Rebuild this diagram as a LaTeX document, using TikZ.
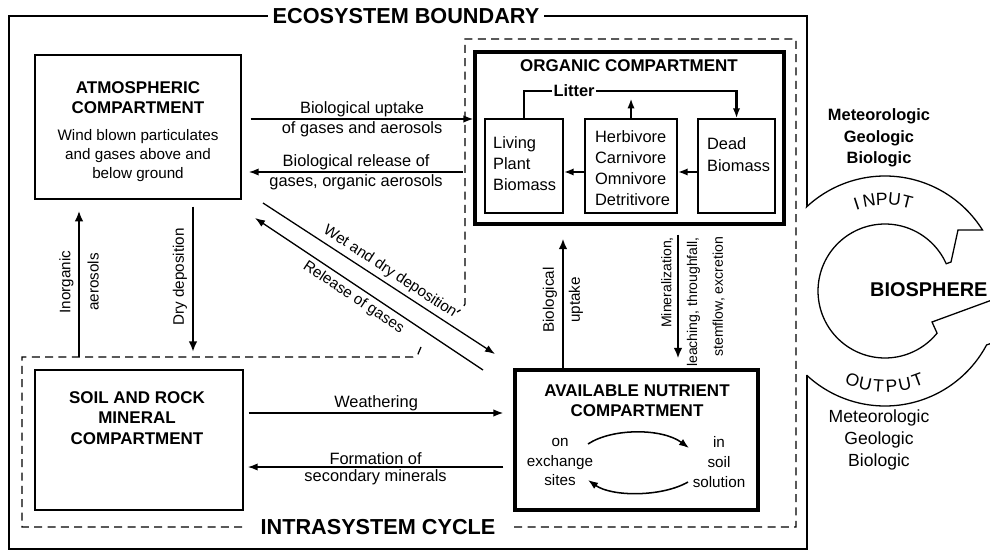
\documentclass[tikz,border=0pt]{standalone}
\usepackage{fontspec}
\setmainfont{Liberation Sans}
\usetikzlibrary{arrows.meta,positioning,calc}

\begin{document}
\begin{tikzpicture}
  [x=0.3mm,y=-0.3mm,
  box/.style={draw,line width=1.2pt,inner sep=0pt},
  heavybox/.style={draw,line width=2.6pt,inner sep=0pt},
  title/.style={font=\bfseries\fontsize{14.5}{17}\selectfont,align=center},
  big/.style={font=\bfseries\fontsize{18.5}{22}\selectfont,fill=white},
  lbl/.style={font=\fontsize{14}{16}\selectfont,inner sep=1.5pt},
  note/.style={font=\fontsize{13}{16.2}\selectfont,align=center},
  inner/.style={font=\fontsize{14}{18}\selectfont,align=left,anchor=west},
  letter/.style={font=\fontsize{15}{18}\selectfont,inner sep=0pt},
  flow/.style={-{Latex[length=3mm,width=2.2mm]},line width=1.3pt},
  backflow/.style={{Latex[length=3mm,width=2.2mm]}-,line width=1.1pt},
  bigflow/.style={-{Latex[length=3.2mm,width=2.6mm]},line width=2.4pt},
  intra/.style={dash pattern=on 2.4mm off 1.6mm,line width=1.1pt}]
  \useasboundingbox (0,0) rectangle (990,552);

  % boundaries
  \draw[line width=1.3pt] (807,205) -- (807,16) -- (9,16) -- (9,549) -- (807,549) -- (807,375);
  \node[big,inner xsep=4pt] (eco) at (406,16) {ECOSYSTEM BOUNDARY};
  \draw[intra] (421,347) -- (418,354) -- (413,357) -- (22,357) -- (22,527) -- (796,527)
    -- (796,39) -- (465,39) -- (465,304) -- (462,309) -- (457,312);
  \node[big,inner xsep=12pt] (cyc) at (378,527) {INTRASYSTEM CYCLE};

  % compartments
  \node[box,minimum width=61.8mm,minimum height=43.2mm] (atm) at (138,127) {};
  \node[heavybox,minimum width=92.7mm,minimum height=51.6mm] (org) at (629.5,138) {};
  \node[box,minimum width=23.4mm,minimum height=28.2mm] (liv) at (524,166) {};
  \node[box,minimum width=27.6mm,minimum height=28.2mm] (herb) at (631,166) {};
  \node[box,minimum width=23.1mm,minimum height=28.2mm] (dead) at (736.5,166) {};
  \node[box,minimum width=62.4mm,minimum height=42mm] (soil) at (139,440) {};
  \node[heavybox,minimum width=72.9mm,minimum height=42mm] (nut) at (636.5,440) {};

  \node[title] (atmT) at (138,98) {ATMOSPHERIC\\COMPARTMENT};
  \node[note] (atmS) at (138,156) {Wind blown particulates\\and gases above and\\below ground};
  \node[title] (orgT) at (629,66) {ORGANIC COMPARTMENT};
  \node[inner] (livT) at (489,164) {Living\\Plant\\Biomass};
  \node[inner] (herbT) at (591,168.5) {Herbivore\\Carnivore\\Omnivore\\Detritivore};
  \node[inner,font=\fontsize{14}{18.8}\selectfont] (deadT) at (703,155) {Dead\\Biomass};
  \node[title,font=\bfseries\fontsize{14.5}{17.5}\selectfont] (soilT) at (137,418) {SOIL AND ROCK\\MINERAL\\COMPARTMENT};
  \node[title] (nutT) at (637,401) {AVAILABLE NUTRIENT\\COMPARTMENT};
  \node[note,font=\fontsize{13}{17}\selectfont] (exch) at (560,462) {on\\exchange\\sites};
  \node[note,font=\fontsize{13}{17}\selectfont] (solu) at (719,462) {in\\soil\\solution};

  % litter loop
  \node[font=\bfseries\fontsize{14}{16}\selectfont,inner sep=1pt] (lit) at (574,91) {Litter};
  \draw[line width=2pt] (liv.north) |- (lit.west);
  \draw[flow,line width=2pt] (lit.east) -| (dead.north);
  \draw[flow,line width=2pt] (herb.north) -- (herb.north |- lit.south);
  \draw[flow,line width=2pt] ([yshift=-1.8mm]herb.west) -- ([yshift=-1.8mm]liv.east);
  \draw[flow,line width=2pt] ([yshift=-1.8mm]dead.west) -- ([yshift=-1.8mm]herb.east);

  % exchange cycle
  \coordinate (e1) at (588,444);
  \coordinate (e2) at (689,448);
  \coordinate (e3) at (688,482);
  \coordinate (e4) at (588,480);
  \draw[flow] (e1) .. controls (612,428) and (662,428) .. (e2);
  \draw[flow] (e3) .. controls (662,497) and (612,497) .. (e4);

  % horizontal fluxes
  \coordinate (r1) at (0,119);
  \coordinate (r2) at (0,172);
  \coordinate (r3) at (0,413);
  \coordinate (r4) at (0,467);
  \draw[flow] ($(atm.east |- r1)+(9,0)$) -- (org.west |- r1)
    node[lbl,midway,above] {Biological uptake}
    node[lbl,midway,below] {of gases and aerosols};
  \draw[flow] ($(org.west |- r2)+(-10,0)$) -- ($(atm.east |- r2)+(7,0)$)
    node[lbl,midway,above] {Biological release of}
    node[lbl,midway,below] {gases, organic aerosols};
  \draw[flow] ($(soil.east |- r3)+(5,0)$) -- ($(nut.west |- r3)+(-10,0)$)
    node[lbl,midway,above] {Weathering};
  \draw[flow] ($(nut.west |- r4)+(-10,0)$) -- ($(soil.east |- r4)+(4,0)$)
    node[lbl,midway,above] {Formation of}
    node[lbl,midway,below] {secondary minerals};

  % vertical fluxes
  \coordinate (c1) at (79,0);
  \coordinate (c2) at (193,0);
  \coordinate (c3) at (563,0);
  \coordinate (c4) at (678,0);
  \coordinate (dl) at (0,357);
  \draw[bigflow] (c1 |- dl) -- ($(atm.south -| c1)+(0,11)$);
  \node[note,rotate=90] (ina) at (79,282) {Inorganic\\[8pt]aerosols};
  \draw[bigflow] ($(atm.south -| c2)+(0,7)$) -- ($(dl -| c2)+(0,-5)$);
  \node[note,rotate=90] (dry) at (180,277) {Dry deposition};
  \draw[bigflow] (nut.north -| c3) -- ($(org.south -| c3)+(0,13)$);
  \node[note,rotate=90] (bup) at (563,300) {Biological\\[6pt]uptake};
  \draw[bigflow] ($(org.south -| c4)+(0,9)$) -- ($(nut.north -| c4)+(0,-10)$);
  \node[font=\fontsize{12}{22}\selectfont,align=right,rotate=90,anchor=east] (minl) at (693,233)
    {Mineralization,\\leaching, throughfall,\\stemflow, excretion};

  % diagonal fluxes
  \coordinate (w1) at (263,203);
  \coordinate (w2) at (495,354);
  \coordinate (g1) at (255,218);
  \coordinate (g2) at (483,370);
  \draw[flow,line width=1.1pt] (w1) -- (w2) node[note,pos=0.52,above,sloped] {Wet and dry deposition};
  \draw[backflow] (g1) -- (g2) node[note,pos=0.46,below,sloped] {Release of gases};

  % biosphere
  \draw[line width=1.1pt] (807,205)
    -- plot[smooth,samples=40,domain=-133:-32] ({885+115*cos(\x)},{291+115*sin(\x)})
    -- (958,230) -- (951,262)
    -- plot[smooth,samples=60,domain=-24:-321] ({885+67*cos(\x)},{291+67*sin(\x)})
    -- (932,322) -- (992,300);
  \draw[line width=1.1pt] (992,343)
    -- plot[smooth,samples=40,domain=28:133] ({885+115*cos(\x)},{291+115*sin(\x)});
  \node[font=\bfseries\fontsize{14}{18.4}\selectfont,align=center] (srcin) at (879,138) {Meteorologic\\Geologic\\Biologic};
  \node[font=\fontsize{15}{19}\selectfont,align=center] (srcout) at (879,440) {Meteorologic\\Geologic\\Biologic};
  \node[font=\bfseries\fontsize{17}{20}\selectfont,anchor=west] (bio) at (866,290) {BIOSPHERE};
  \foreach \ch [count=\i] in {I,N,P,U,T}{
    \pgfmathsetmacro{\ang}{-108+8*(\i-1)}
    \pgfmathsetmacro{\rot}{-(\ang)-90}
    \node[letter,rotate=\rot] (in\i) at ({885+92*cos(\ang)},{291+92*sin(\ang)}) {\ch};
  }
  \foreach \ch [count=\i] in {O,U,T,P,U,T}{
    \pgfmathsetmacro{\ang}{110-8*(\i-1)}
    \pgfmathsetmacro{\rot}{90-\ang}
    \node[letter,rotate=\rot] (out\i) at ({885+95*cos(\ang)},{291+95*sin(\ang)}) {\ch};
  }
\end{tikzpicture}
\end{document}
